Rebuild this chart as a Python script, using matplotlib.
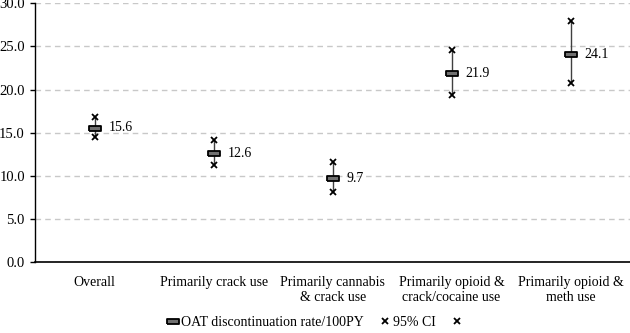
import matplotlib
matplotlib.use("Agg")
import matplotlib.pyplot as plt
import numpy as np

# data
categories = ["Overall", "Primarily crack use", "Primarily cannabis\n& crack use",
              "Primarily opioid &\ncrack/cocaine use", "Primarily opioid &\nmeth use"]
rates = [15.6, 12.6, 9.7, 21.9, 24.1]
ci_upper = [16.8, 14.2, 11.6, 24.6, 28.0]
ci_lower = [14.5, 11.2, 8.1, 19.4, 20.8]
y_ticks = [0, 5, 10, 15, 20, 25, 30]

plt.rcParams['font.family'] = ['Liberation Serif', 'DejaVu Serif']

fig = plt.figure(figsize=(6.3, 3.33), dpi=100)
ax = fig.add_axes([0.056, 0.213, 0.944, 0.777])

x = np.arange(len(categories))

# CI lines
ax.vlines(x, ci_lower, ci_upper, color='#404040', linewidth=1, zorder=2)

# rectangle marker for the rate
rect = [(-1, -0.4), (1, -0.4), (1, 0.4), (-1, 0.4), (-1, -0.4)]
ax.plot(x, rates, linestyle='none', marker=rect, markersize=9, color='black',
        markerfacecolor='#707070', markeredgewidth=1.3,
        label='OAT discontinuation rate/100PY', zorder=3)
ax.plot(x, ci_upper, linestyle='none', marker='x', markersize=4, markeredgewidth=1.3,
        color='black', label='95% CI', zorder=3)
ax.plot(x, ci_lower, linestyle='none', marker='x', markersize=4, markeredgewidth=1.3,
        color='black', label=' ', zorder=3)

for xi, r in zip(x, rates):
    ax.annotate(f"{r:.1f}", (xi, r), xytext=(10, 0), textcoords='offset points',
                va='center', ha='left', fontsize=10)

ax.set_xlim(-0.5, len(categories) - 0.5)
ax.set_ylim(0, 30)
ax.set_yticks(y_ticks)
ax.set_yticklabels([f"{v:.1f}" for v in y_ticks], fontsize=10.5)
ax.set_xticks(x)
ax.set_xticklabels(categories, fontsize=10, linespacing=1.25)
ax.tick_params(axis='x', length=0, pad=10)
ax.tick_params(axis='y', length=3.5, width=1, pad=4)

ax.yaxis.grid(True, linestyle=(0, (4, 3)), color='#c8c8c8', linewidth=1)
ax.set_axisbelow(True)
for s in ['top', 'right']:
    ax.spines[s].set_visible(False)
ax.spines['left'].set_linewidth(1)
ax.spines['bottom'].set_linewidth(1.2)

fig.legend(loc='lower center', bbox_to_anchor=(0.505, -0.025), ncol=3, frameon=False,
           fontsize=10, handlelength=0.8, handletextpad=0.2, columnspacing=1.1)

fig.savefig("out.png", dpi=100)
